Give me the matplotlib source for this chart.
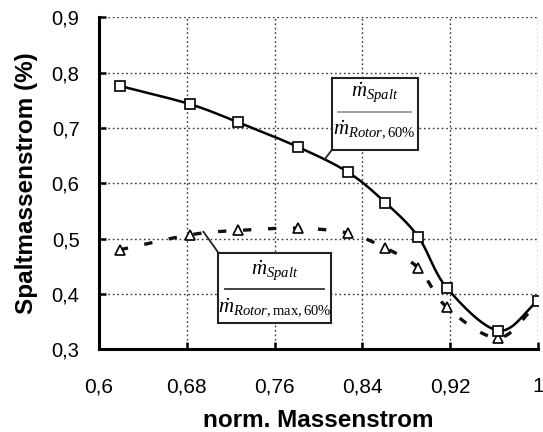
import numpy as np
import matplotlib
matplotlib.use("Agg")
import matplotlib.pyplot as plt
from matplotlib.patches import Rectangle
from matplotlib.lines import Line2D
from matplotlib.ticker import FixedLocator, FixedFormatter

plt.rcParams['font.family'] = ['Liberation Sans', 'DejaVu Sans']
plt.rcParams['mathtext.fontset'] = 'custom'
plt.rcParams['mathtext.rm'] = 'Liberation Serif'
plt.rcParams['mathtext.it'] = 'Liberation Serif:italic'

# Normalised mass flow (operating points)
mass_flow = [0.619, 0.683, 0.727, 0.781, 0.827, 0.861, 0.891, 0.917, 0.964, 1.0]
# Tip-gap mass flow relative to rotor mass flow at 60 %
gap_rotor = [0.776, 0.743, 0.710, 0.666, 0.620, 0.565, 0.503, 0.411, 0.334, 0.388]
# Tip-gap mass flow relative to maximum rotor mass flow at 60 %
gap_rotor_max = [0.480, 0.507, 0.515, 0.519, 0.510, 0.483, 0.447, 0.376, 0.321, 0.385]

x_ticks = [0.6, 0.68, 0.76, 0.84, 0.92, 1.0]
x_tick_labels = ["0,6", "0,68", "0,76", "0,84", "0,92", "1"]
y_ticks = [0.3, 0.4, 0.5, 0.6, 0.7, 0.8, 0.9]
y_tick_labels = ["0,3", "0,4", "0,5", "0,6", "0,7", "0,8", "0,9"]


def smooth(x, y, n=30):
    """Catmull-Rom smoothed polyline through the given points."""
    x = np.asarray(x, float)
    y = np.asarray(y, float)
    px = np.concatenate([[2 * x[0] - x[1]], x, [2 * x[-1] - x[-2]]])
    py = np.concatenate([[2 * y[0] - y[1]], y, [2 * y[-1] - y[-2]]])
    xs, ys = [], []
    t = np.linspace(0, 1, n, endpoint=False)
    for i in range(1, len(px) - 2):
        for arr, out in ((px, xs), (py, ys)):
            p0, p1, p2, p3 = arr[i - 1], arr[i], arr[i + 1], arr[i + 2]
            m1 = (p2 - p0) / 2
            m2 = (p3 - p1) / 2
            h00 = 2 * t**3 - 3 * t**2 + 1
            h10 = t**3 - 2 * t**2 + t
            h01 = -2 * t**3 + 3 * t**2
            h11 = t**3 - t**2
            out.extend(h00 * p1 + h10 * m1 + h01 * p2 + h11 * m2)
    xs.append(x[-1])
    ys.append(y[-1])
    return np.array(xs), np.array(ys)


fig = plt.figure(figsize=(5.43, 4.32), dpi=100)
ax = fig.add_axes([0.1823, 0.1912, 0.8085, 0.7688])

ax.set_xlim(0.6, 1.0)
ax.set_ylim(0.3, 0.9)

# grid
for xv in x_ticks[1:]:
    ax.axvline(xv, color='#333333', lw=1.0, ls=(0, (1.2, 2.0)), zorder=1)
for yv in y_ticks[1:]:
    ax.axhline(yv, color='#333333', lw=1.0, ls=(0, (1.2, 2.0)), zorder=1)

# dashed series
sx, sy = smooth(mass_flow, gap_rotor_max)
ax.plot(sx, sy, color='#111111', lw=2.4, ls=(0, (2.5, 5.0)), zorder=2)
ax.plot(mass_flow[:-1], gap_rotor_max[:-1], ls='none', marker='^', ms=7.5,
        mfc='white', mec='black', mew=1.2, zorder=3)

# solid series
sx, sy = smooth(mass_flow, gap_rotor)
ax.plot(sx, sy, color='black', lw=1.8, zorder=4)
ax.plot(mass_flow, gap_rotor, ls='none', marker='s', ms=6.5,
        mfc='white', mec='black', mew=1.2, zorder=5)

for side in ('top', 'right'):
    ax.spines[side].set_visible(False)
for side in ('left', 'bottom'):
    ax.spines[side].set_linewidth(2.2)
    ax.spines[side].set_zorder(6)

ax.xaxis.set_major_locator(FixedLocator(x_ticks))
ax.xaxis.set_major_formatter(FixedFormatter(x_tick_labels))
ax.yaxis.set_major_locator(FixedLocator(y_ticks))
ax.yaxis.set_major_formatter(FixedFormatter(y_tick_labels))
ax.tick_params(axis='x', direction='in', length=5, width=1.8, pad=20, labelsize=15)
ax.tick_params(axis='y', direction='in', length=5, width=1.8, pad=14, labelsize=14.5)

ax.set_xlabel("norm. Massenstrom", fontsize=17.5, fontweight='bold', labelpad=9)
ax.set_ylabel("Spaltmassenstrom (%)", fontsize=17.5, fontweight='bold', labelpad=10)


def label_box(x0, y0, x1, y1, num, den, yn, yd, line_color, leader):
    ax.add_patch(Rectangle((x0, y0), x1 - x0, y1 - y0, transform=ax.transAxes,
                           facecolor='white', edgecolor='#222222', lw=1.5, zorder=7))
    xc = (x0 + x1) / 2
    ax.add_line(Line2D([x0 + 0.015, x1 - 0.015], [(yn + yd) / 2] * 2,
                       transform=ax.transAxes, color=line_color, lw=1.3, zorder=8))
    ax.text(xc, yn, num, transform=ax.transAxes, ha='center', va='center',
            fontsize=15, zorder=8)
    ax.text(xc, yd, den, transform=ax.transAxes, ha='center', va='center',
            fontsize=15, zorder=8)
    ax.add_line(Line2D(leader[0], leader[1], transform=ax.transAxes,
                       color='#222222', lw=1.3, zorder=7))


label_box(0.530, 0.600, 0.726, 0.816,
          r"$\dot{m}_{Spalt}$", r"$\dot{m}_{Rotor,60\%}$",
          0.772, 0.660, '#9a9a9a',
          ([0.530, 0.515], [0.600, 0.574]))
label_box(0.272, 0.080, 0.528, 0.291,
          r"$\dot{m}_{Spalt}$", r"$\dot{m}_{Rotor,\mathrm{max},60\%}$",
          0.237, 0.125, '#333333',
          ([0.272, 0.238], [0.291, 0.354]))

fig.savefig("out.png", dpi=100)
